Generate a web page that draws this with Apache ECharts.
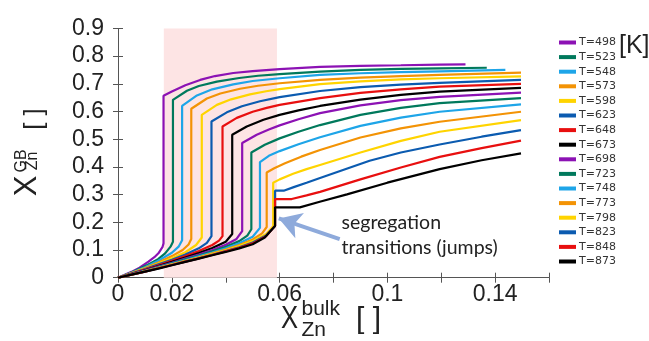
<!DOCTYPE html>
<html><head><meta charset="utf-8">
<script src="https://cdn.jsdelivr.net/npm/echarts@6/dist/echarts.min.js"></script>
<style>html,body{margin:0;padding:0;background:#fff}#c{width:649px;height:341px}</style>
</head><body><div id="c"></div>
<script>
const temps = ['T=498','T=523','T=548','T=573','T=598','T=623','T=648','T=673','T=698','T=723','T=748','T=773','T=798','T=823','T=848','T=873'];
const colors = ['#8c12b4','#00795c','#1ea5e8','#f39305','#ffd400','#0b5bb0','#e80f0f','#000000','#8c12b4','#00795c','#1ea5e8','#f39305','#ffd400','#0b5bb0','#e80f0f','#000000'];
const xTickLabels = ['0','0.02','','0.06','','0.1','','0.14',''];
const yTickLabels = ['0','0.1','0.2','0.3','0.4','0.5','0.6','0.7','0.8','0.9'];
const bandRange = [0.017, 0.059];
const arrowFrom = [0.0823, 0.139];
const arrowTo = [0.0597, 0.214];

const t498 = [[0,0],[0.005,0.021],[0.008,0.036],[0.0113,0.058],[0.0135,0.074],[0.015,0.088],[0.0165,0.11],[0.0169,0.124],[0.0169,0.657],[0.02,0.672],[0.025,0.695],[0.0305,0.714],[0.036,0.728],[0.0428,0.739],[0.05,0.746],[0.06,0.753],[0.075,0.761],[0.09,0.765],[0.105,0.767],[0.1194,0.769],[0.129,0.770]];
const t523 = [[0,0],[0.005,0.019],[0.0113,0.048],[0.015,0.068],[0.0175,0.088],[0.0195,0.112],[0.0204,0.13],[0.0204,0.642],[0.0256,0.675],[0.03,0.692],[0.0367,0.708],[0.045,0.721],[0.052,0.729],[0.06,0.735],[0.075,0.744],[0.09,0.75],[0.105,0.754],[0.1194,0.756],[0.1369,0.758]];
const t548 = [[0,0],[0.005,0.018],[0.01,0.038],[0.015,0.061],[0.02,0.09],[0.0225,0.112],[0.0238,0.135],[0.0238,0.62],[0.0293,0.658],[0.035,0.68],[0.0428,0.698],[0.05,0.71],[0.06,0.72],[0.075,0.732],[0.09,0.738],[0.105,0.742],[0.1194,0.745],[0.1438,0.75]];
const t573 = [[0,0],[0.005,0.017],[0.01,0.035],[0.015,0.055],[0.02,0.078],[0.024,0.1],[0.0262,0.12],[0.0272,0.14],[0.0272,0.61],[0.033,0.647],[0.038,0.665],[0.0453,0.682],[0.052,0.693],[0.06,0.702],[0.075,0.714],[0.09,0.722],[0.105,0.728],[0.1194,0.732],[0.1496,0.740]];
const t598 = [[0,0],[0.005,0.016],[0.01,0.033],[0.015,0.051],[0.02,0.07],[0.025,0.092],[0.029,0.118],[0.0311,0.145],[0.0311,0.588],[0.0367,0.624],[0.042,0.644],[0.049,0.662],[0.055,0.673],[0.06,0.681],[0.075,0.699],[0.09,0.709],[0.105,0.716],[0.1194,0.72],[0.1496,0.727]];
const t623 = [[0,0],[0.005,0.015],[0.01,0.031],[0.015,0.048],[0.02,0.065],[0.025,0.084],[0.03,0.106],[0.033,0.126],[0.0347,0.15],[0.0347,0.564],[0.0404,0.597],[0.046,0.619],[0.0527,0.637],[0.06,0.652],[0.075,0.674],[0.09,0.688],[0.105,0.697],[0.1194,0.703],[0.1496,0.714]];
const t648 = [[0,0],[0.005,0.014],[0.01,0.029],[0.015,0.045],[0.02,0.061],[0.025,0.078],[0.03,0.096],[0.035,0.118],[0.0375,0.134],[0.0388,0.15],[0.0388,0.546],[0.0441,0.577],[0.05,0.599],[0.0552,0.613],[0.06,0.624],[0.075,0.648],[0.09,0.667],[0.105,0.68],[0.1194,0.69],[0.1496,0.700]];
const t673 = [[0,0],[0.005,0.013],[0.01,0.027],[0.015,0.042],[0.02,0.057],[0.025,0.073],[0.03,0.089],[0.035,0.107],[0.04,0.13],[0.0424,0.158],[0.0424,0.516],[0.0478,0.546],[0.054,0.57],[0.06,0.588],[0.067,0.604],[0.075,0.62],[0.09,0.643],[0.105,0.66],[0.1194,0.672],[0.1496,0.685]];
const t698 = [[0,0],[0.005,0.013],[0.01,0.026],[0.015,0.04],[0.02,0.054],[0.025,0.069],[0.03,0.084],[0.035,0.1],[0.04,0.119],[0.044,0.14],[0.0461,0.168],[0.0461,0.486],[0.0515,0.516],[0.056,0.535],[0.06,0.55],[0.067,0.572],[0.075,0.594],[0.09,0.622],[0.105,0.641],[0.1194,0.653],[0.1496,0.668]];
const t723 = [[0,0],[0.005,0.012],[0.01,0.025],[0.015,0.038],[0.02,0.052],[0.025,0.066],[0.03,0.08],[0.035,0.095],[0.04,0.112],[0.045,0.132],[0.048,0.152],[0.0495,0.175],[0.0495,0.452],[0.0545,0.48],[0.06,0.503],[0.067,0.527],[0.075,0.551],[0.09,0.588],[0.105,0.613],[0.1194,0.63],[0.1496,0.648]];
const t748 = [[0,0],[0.005,0.012],[0.01,0.024],[0.015,0.037],[0.02,0.05],[0.025,0.063],[0.03,0.077],[0.035,0.091],[0.04,0.106],[0.045,0.124],[0.05,0.148],[0.0527,0.18],[0.0527,0.417],[0.056,0.44],[0.06,0.457],[0.067,0.482],[0.075,0.507],[0.09,0.548],[0.105,0.578],[0.1194,0.599],[0.1496,0.626]];
const t773 = [[0,0],[0.005,0.011],[0.01,0.023],[0.015,0.036],[0.02,0.048],[0.025,0.061],[0.03,0.074],[0.035,0.088],[0.04,0.102],[0.045,0.118],[0.05,0.138],[0.0535,0.16],[0.0552,0.183],[0.0552,0.38],[0.058,0.395],[0.062,0.413],[0.068,0.437],[0.075,0.461],[0.09,0.506],[0.105,0.539],[0.1194,0.563],[0.1496,0.599]];
const t798 = [[0,0],[0.005,0.011],[0.01,0.023],[0.015,0.035],[0.02,0.047],[0.025,0.059],[0.03,0.072],[0.035,0.085],[0.04,0.099],[0.045,0.114],[0.05,0.132],[0.055,0.158],[0.0576,0.186],[0.0576,0.343],[0.06,0.355],[0.065,0.375],[0.07,0.392],[0.075,0.407],[0.09,0.452],[0.105,0.494],[0.1194,0.527],[0.1496,0.569]];
const t823 = [[0,0],[0.005,0.011],[0.01,0.022],[0.015,0.034],[0.02,0.046],[0.025,0.058],[0.03,0.07],[0.035,0.083],[0.04,0.096],[0.045,0.11],[0.05,0.127],[0.055,0.152],[0.0583,0.187],[0.0583,0.314],[0.0615,0.314],[0.0655,0.328],[0.07,0.343],[0.075,0.36],[0.0934,0.422],[0.105,0.452],[0.1194,0.481],[0.135,0.509],[0.1496,0.533]];
const t848 = [[0,0],[0.005,0.011],[0.01,0.022],[0.015,0.034],[0.02,0.046],[0.025,0.058],[0.03,0.07],[0.035,0.082],[0.04,0.095],[0.045,0.108],[0.05,0.124],[0.055,0.15],[0.0583,0.187],[0.0583,0.284],[0.0645,0.284],[0.07,0.297],[0.075,0.31],[0.09,0.355],[0.105,0.398],[0.1194,0.436],[0.135,0.468],[0.1496,0.495]];
const t873 = [[0,0],[0.005,0.011],[0.01,0.022],[0.015,0.033],[0.02,0.045],[0.025,0.057],[0.03,0.069],[0.035,0.081],[0.04,0.093],[0.045,0.106],[0.05,0.121],[0.0545,0.145],[0.0564,0.166],[0.0583,0.187],[0.0583,0.254],[0.0675,0.254],[0.0749,0.274],[0.085,0.301],[0.1,0.343],[0.1194,0.392],[0.135,0.424],[0.1496,0.449]];
const curves = [t498,t523,t548,t573,t598,t623,t648,t673,t698,t723,t748,t773,t798,t823,t848,t873];

const chart = echarts.init(document.getElementById('c'), null, {renderer:'canvas'});
const frame = '#555';
const axisFont = 'Liberation Sans, Arial, sans-serif';
const series = curves.map((d,i)=>({
  name: temps[i], type:'line', data:d, showSymbol:false, symbol:'none', z:3,
  lineStyle:{width:2.2, color:colors[i]}, itemStyle:{color:colors[i]}, animation:false
}));
series.unshift({
  name:'band', type:'line', data:[], z:1, silent:true,
  markArea:{silent:true, itemStyle:{color:'#fde4e4'}, data:[[{xAxis:bandRange[0]},{xAxis:bandRange[1]}]]}
});
series.push({
  name:'arrow', type:'line', data:[], z:6, silent:true,
  markLine:{silent:true, symbol:['none','arrow'], symbolSize:[20,22], label:{show:false},
    lineStyle:{color:'#8eaadb', width:4, type:'solid'}, emphasis:{disabled:true},
    data:[[{coord:arrowFrom},{coord:arrowTo}]]}
});
const option = {
  animation:false,
  color: colors,
  grid:{left:118, right:100, top:28.4, bottom:63.3, containLabel:false},
  legend:{data:temps, orient:'vertical', left:554, top:31.5, icon:'rect', itemWidth:17, itemHeight:4, itemGap:2.6,
    textStyle:{fontFamily:'DejaVu Sans', fontSize:11, color:'#333', lineHeight:12, padding:[0,0,0,-2]}, selectedMode:false},
  xAxis:[{type:'value', min:0, max:0.16, interval:0.02, position:'bottom',
    axisLine:{show:true, lineStyle:{color:frame, width:1}},
    axisTick:{show:true, inside:true, length:5, lineStyle:{color:frame}},
    splitLine:{show:false},
    axisLabel:{fontFamily:axisFont, fontSize:23, color:'#222', margin:5,
      formatter:(v)=>xTickLabels[Math.round(v/0.02)]}},
    {type:'value', min:0, max:0.16, interval:0.02, position:'top',
    axisLine:{show:true, lineStyle:{color:frame, width:1}},
    axisTick:{show:true, inside:true, length:5, lineStyle:{color:frame}},
    splitLine:{show:false}, axisLabel:{show:false}}],
  yAxis:[{type:'value', min:0, max:0.9, interval:0.1, position:'left',
    axisLine:{show:true, lineStyle:{color:frame, width:1}},
    axisTick:{show:true, inside:true, length:5, lineStyle:{color:frame}},
    splitLine:{show:false},
    axisLabel:{fontFamily:axisFont, fontSize:23, color:'#222', margin:14, padding:[0,0,10,0],
      formatter:(v)=>yTickLabels[Math.round(v/0.1)]}},
    {type:'value', min:0, max:0.9, interval:0.1, position:'right',
    axisLine:{show:true, lineStyle:{color:frame, width:1}},
    axisTick:{show:true, inside:true, length:5, lineStyle:{color:frame}},
    splitLine:{show:false}, axisLabel:{show:false}}],
  series: series,
  graphic:[
    {type:'text', left:619, top:34, style:{text:'[K]', font:'25px Liberation Sans, sans-serif', fill:'#222'}},
    {type:'text', x:341.5, y:213, style:{text:'segregation', font:'19.5px Lato, sans-serif', fill:'#222'}},
    {type:'text', x:341.5, y:237.5, style:{text:'transitions (jumps)', font:'19.5px Lato, sans-serif', fill:'#222'}},
    // x-axis title
    {type:'text', x:281, y:335, scaleX:0.8, style:{text:'X', font:'32px Liberation Sans, sans-serif', fill:'#222', textVerticalAlign:'bottom'}},
    {type:'text', x:301.5, y:320, style:{text:'bulk', font:'21px Liberation Sans, sans-serif', fill:'#222', textVerticalAlign:'bottom'}},
    {type:'text', x:301.5, y:341, style:{text:'Zn', font:'21px Liberation Sans, sans-serif', fill:'#222', textVerticalAlign:'bottom'}},
    {type:'text', x:356, y:335, style:{text:'[ ]', font:'30px Liberation Sans, sans-serif', fill:'#222', textVerticalAlign:'bottom'}},
    // y-axis title (rotated)
    {type:'text', x:27.5, y:186, rotation:Math.PI/2, style:{text:'X', font:'31px Liberation Sans, sans-serif', fill:'#222', textAlign:'center', textVerticalAlign:'middle'}},
    {type:'text', x:22, y:161, rotation:Math.PI/2, style:{text:'GB', font:'16px Liberation Sans, sans-serif', fill:'#222', textAlign:'center', textVerticalAlign:'middle'}},
    {type:'text', x:32.5, y:161, rotation:Math.PI/2, style:{text:'Zn', font:'16px Liberation Sans, sans-serif', fill:'#222', textAlign:'center', textVerticalAlign:'middle'}},
    {type:'text', x:35, y:119, rotation:Math.PI/2, style:{text:'[ ]', font:'26px Liberation Sans, sans-serif', fill:'#222', textAlign:'center', textVerticalAlign:'middle'}}
  ]
};
chart.setOption(option);
</script></body></html>
